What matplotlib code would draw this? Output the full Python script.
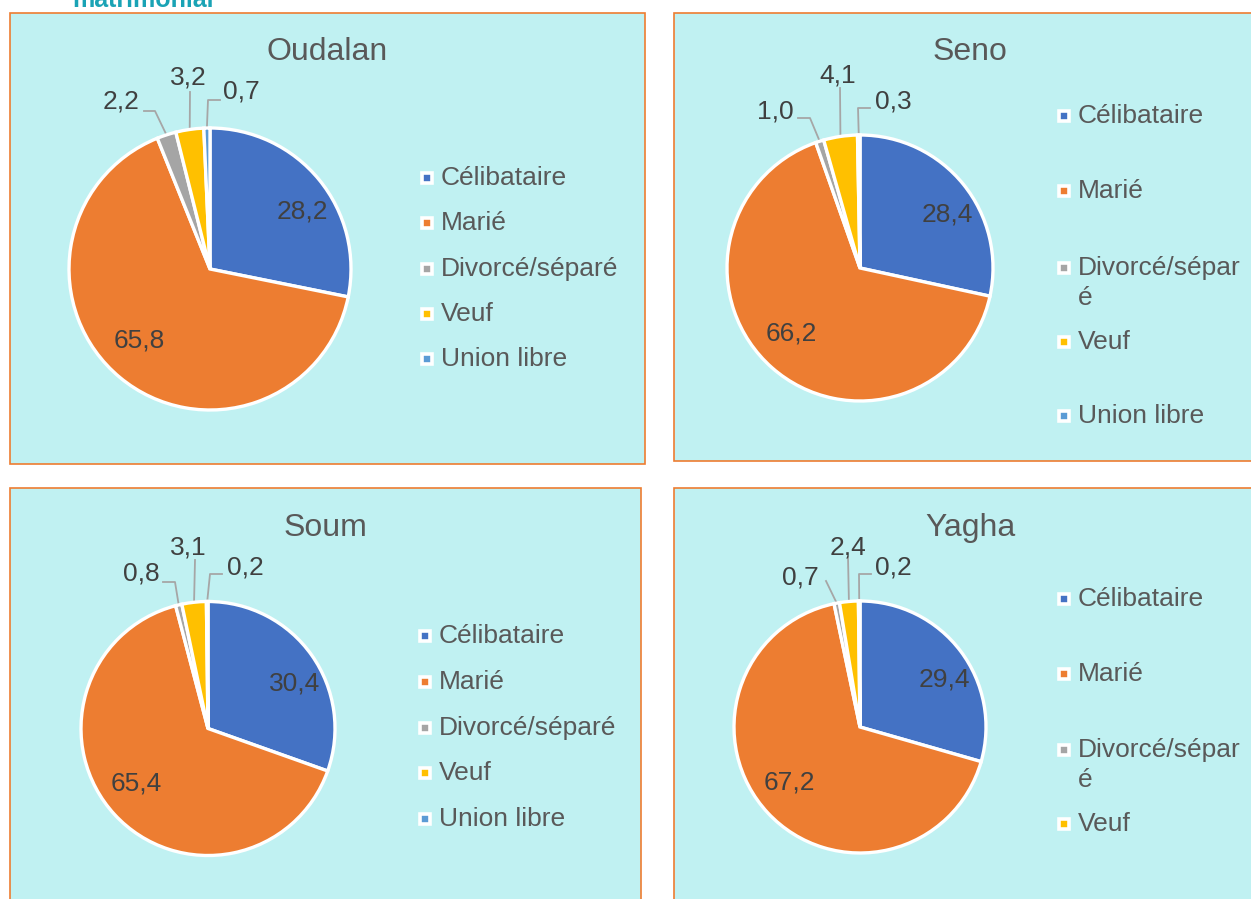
import numpy as np
import matplotlib.pyplot as plt
from matplotlib.patches import Rectangle

plt.rcParams['font.family'] = ['Liberation Sans', 'DejaVu Sans']

# données (%)
categories = ['Célibataire', 'Marié', 'Divorcé/séparé', 'Veuf', 'Union libre']
districts = ['Oudalan', 'Seno', 'Soum', 'Yagha']
oudalan = [28.2, 65.8, 2.2, 3.2, 0.7]
seno = [28.4, 66.2, 1.0, 4.1, 0.3]
soum = [30.4, 65.4, 0.8, 3.1, 0.2]
yagha = [29.4, 67.2, 0.7, 2.4, 0.2]
colors = ['#4472C4', '#ED7D31', '#A5A5A5', '#FFC000', '#5B9BD5']

W, H = 1251, 899
BG = '#C0F1F2'
TXT = '#404040'
LEG = '#595959'

# mise en page de chaque panneau (pixels)
panels = [
    dict(values=oudalan, rect=(10, 13, 645, 464), center=(210, 269), r=141,
         title=(327, 52), leg_x=427, leg_y=[178, 223, 269, 314, 359], wrap=False,
         outer={2: ((-89, -167), [(-55, -158), (-66, -158)]),
                3: ((-22, -191), [(-20, -177)]),
                4: ((31, -177), [(-2, -169), (10, -169)])}),
    dict(values=seno, rect=(674, 13, 1252, 461), center=(860, 268), r=133,
         title=(970, 52), leg_x=1064, leg_y=[116, 191, 268, 342, 416], wrap=True,
         outer={2: ((-85, -157), [(-50, -150), (-62, -150)]),
                3: ((-22, -192), [(-20, -180)]),
                4: ((33, -167), [(-2, -160), (10, -160)])}),
    dict(values=soum, rect=(10, 488, 641, 901), center=(208, 728.5), r=127,
         title=(325, 528), leg_x=425, leg_y=[636, 682, 728, 773, 819], wrap=False,
         outer={2: ((-67, -154.5), [(-33, -146.5), (-45, -146.5)]),
                3: ((-20, -181.5), [(-13, -168.5)]),
                4: ((37, -160.5), [(2, -154.5), (14, -154.5)])}),
    # la dernière entrée de légende tombe sous le bord de l'image
    dict(values=yagha, rect=(674, 488, 1252, 901), center=(860, 727), r=126,
         title=(970, 528), leg_x=1064, leg_y=[599, 674, 750, 824, None], wrap=True,
         outer={2: ((-60, -149), [(-34, -146)]),
                3: ((-12, -179), [(-12, -170)]),
                4: ((33, -160), [(-1, -153), (11, -153)])}),
]


def fmt(v):
    return f'{v:.1f}'.replace('.', ',')


fig = plt.figure(figsize=(W / 100, H / 100), dpi=100)
bg = fig.add_axes([0, 0, 1, 1])
bg.set_xlim(0, W)
bg.set_ylim(H, 0)
bg.axis('off')

# titre coupé en haut
bg.text(72, 7, 'matrimonial', color='#1AA3B5', fontsize=18, fontweight='bold',
        ha='left', va='baseline')

for name, p in zip(districts, panels):
    x0, y0, x1, y1 = p['rect']
    bg.add_patch(Rectangle((x0, y0), x1 - x0, y1 - y0, facecolor=BG,
                           edgecolor='#ED7D31', linewidth=1.2))
    bg.text(p['title'][0], p['title'][1], name, fontsize=23, color=LEG,
            ha='center', va='center')

    cx, cy = p['center']
    r = p['r']
    ax = fig.add_axes([(cx - r) / W, (H - cy - r) / H, 2 * r / W, 2 * r / H])
    wedges, _ = ax.pie(p['values'], colors=colors, startangle=90, counterclock=False,
                       radius=1, wedgeprops=dict(edgecolor='white', linewidth=2.4))
    ax.set_xlim(-1, 1)
    ax.set_ylim(-1, 1)
    ax.axis('off')

    # étiquettes internes
    for i, (dist, shift) in enumerate([(0.77, -7.5), (0.71, -5)]):
        w = wedges[i]
        mid = np.deg2rad((w.theta1 + w.theta2) / 2 + shift)
        ax.text(dist * np.cos(mid), dist * np.sin(mid), fmt(p['values'][i]),
                fontsize=19, color=TXT, ha='center', va='center')

    # étiquettes externes avec lignes de rappel
    for i, (lab, path) in p['outer'].items():
        w = wedges[i]
        mid = np.deg2rad((w.theta1 + w.theta2) / 2)
        ex, ey = cx + r * np.cos(mid), cy - r * np.sin(mid)
        xs = [ex] + [cx + dx for dx, dy in path]
        ys = [ey] + [cy + dy for dx, dy in path]
        bg.plot(xs, ys, color='#A6A6A6', linewidth=1.3, zorder=5)
        bg.text(cx + lab[0], cy + lab[1], fmt(p['values'][i]), fontsize=19,
                color=TXT, ha='center', va='center', zorder=6)

    # légende
    for i, cat in enumerate(categories):
        ly = p['leg_y'][i]
        if ly is None:
            continue
        label = 'Divorcé/sépar\né' if (p['wrap'] and i == 2) else cat
        bg.plot([p['leg_x']], [ly], marker='s', markersize=7, color=colors[i],
                markeredgecolor='white', markeredgewidth=2.6, zorder=4)
        for k, line in enumerate(label.split('\n')):
            bg.text(p['leg_x'] + 14, ly + 30 * k, line, fontsize=19, color=LEG,
                    ha='left', va='center')

fig.savefig('out.png', dpi=100, facecolor='white')
